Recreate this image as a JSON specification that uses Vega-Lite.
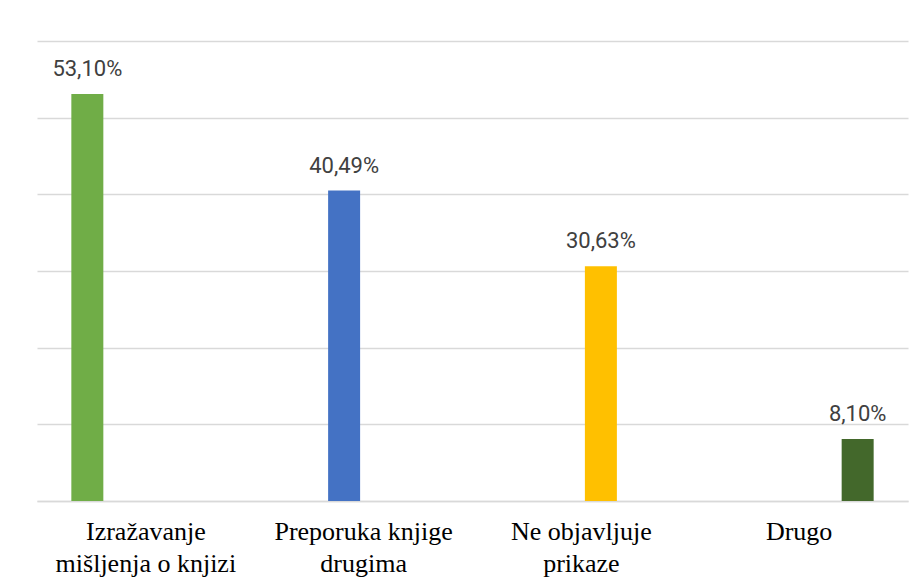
{
  "$schema": "https://vega.github.io/schema/vega-lite/v6.json",
  "autosize": "none",
  "width": 871,
  "height": 460,
  "padding": {"left": 37, "top": 41, "right": 15, "bottom": 87},
  "background": "white",
  "config": {"view": {"stroke": null}},
  "data": {
    "values": [
      {"category": "Izražavanje|mišljenja o knjizi", "value": 53.10, "label": "53,10%"},
      {"category": "Preporuka knjige|drugima", "value": 40.49, "label": "40,49%"},
      {"category": "Ne objavljuje|prikaze", "value": 30.63, "label": "30,63%"},
      {"category": "Drugo", "value": 8.10, "label": "8,10%"}
    ]
  },
  "encoding": {
    "x": {
      "field": "category",
      "type": "nominal",
      "sort": null,
      "scale": {"paddingInner": 0, "paddingOuter": 0},
      "axis": {
        "title": null,
        "labelAngle": 0,
        "labelExpr": "split(datum.label, '|')",
        "labelFont": "Liberation Serif",
        "labelFontSize": 26,
        "labelLineHeight": 32,
        "labelColor": "#000000",
        "labelPadding": 17,
        "ticks": false,
        "domainColor": "#d9d9d9",
        "domainWidth": 1.5,
        "labelLimit": 300
      }
    },
    "xOffset": {
      "field": "category",
      "type": "nominal",
      "sort": null,
      "scale": {"paddingInner": 0.18, "paddingOuter": 0.88}
    },
    "y": {
      "field": "value",
      "type": "quantitative",
      "scale": {"domain": [0, 60], "nice": false},
      "axis": {
        "title": null,
        "labels": false,
        "ticks": false,
        "domain": false,
        "values": [0, 10, 20, 30, 40, 50, 60],
        "gridColor": "#d9d9d9",
        "gridWidth": 1.5
      }
    }
  },
  "layer": [
    {
      "mark": {"type": "bar"},
      "encoding": {
        "color": {
          "field": "category",
          "type": "nominal",
          "sort": null,
          "legend": null,
          "scale": {"range": ["#70AD47", "#4472C4", "#FFC000", "#43682B"]}
        }
      }
    },
    {
      "mark": {"type": "text", "baseline": "alphabetic", "dy": -18, "font": "Roboto", "fontSize": 22, "color": "#404040"},
      "encoding": {"text": {"field": "label"}}
    }
  ]
}
